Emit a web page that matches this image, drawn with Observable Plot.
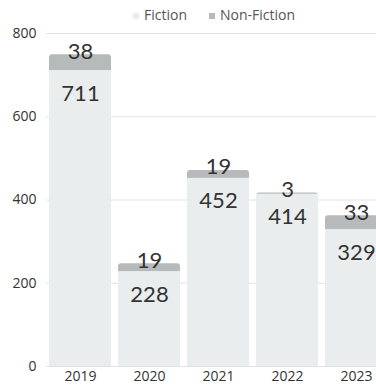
<!DOCTYPE html>
<html>
<head>
<meta charset="utf-8">
<script src="https://cdn.jsdelivr.net/npm/d3@7"></script>
<script src="https://cdn.jsdelivr.net/npm/@observablehq/plot@0.6"></script>
<style>
  html, body { margin: 0; padding: 0; background: #fff; overflow: hidden; width: 376px; height: 389px; }
  #legend { height: 24px; display: flex; justify-content: center; align-items: center; gap: 22px;
    font-family: "Open Sans", sans-serif; font-size: 14px; color: #555; padding-left: 36px; box-sizing: border-box; width: 392px; padding-top: 5px; }
  .sw { display: inline-block; width: 6px; height: 6px; margin-right: 5px; vertical-align: middle; }
  #chart { width: 392px; }
  #chart svg { display: block; max-width: none !important; }
</style>
</head>
<body>
<div id="legend"></div>
<div id="chart"></div>
<script>
const years = ["2019", "2020", "2021", "2022", "2023"];
const fiction = [711, 228, 452, 414, 329];
const nonFiction = [38, 19, 19, 3, 33];
const seriesNames = ["Fiction", "Non-Fiction"];
const seriesColors = ["#e9eded", "#b6baba"];
const yTicks = [0, 200, 400, 600, 800];

const rows = years.map((y, i) => ({year: y, fiction: fiction[i], nonFiction: nonFiction[i], total: fiction[i] + nonFiction[i]}));

const legend = document.getElementById("legend");
seriesNames.forEach((n, i) => {
  const s = document.createElement("span");
  s.innerHTML = `<span class="sw" style="background:${seriesColors[i]}"></span>${n}`;
  legend.appendChild(s);
});

const chart = Plot.plot({
  width: 392,
  height: 365,
  marginLeft: 46,
  marginRight: 1,
  marginTop: 9,
  marginBottom: 23,
  style: {fontFamily: "Open Sans, sans-serif", fontSize: "14px", color: "#333", background: "#fff", maxWidth: "none"},
  x: {domain: years, paddingInner: 0.1, paddingOuter: 0.05, label: null, tickSize: 0, tickPadding: 5},
  y: {domain: [0, 800], ticks: yTicks, label: null, tickSize: 0, tickPadding: 10},
  marks: [
    Plot.ruleY(yTicks, {stroke: "#e2e2e2", strokeWidth: 1}),
    Plot.barY(rows, {x: "year", y: "total", fill: seriesColors[1], rx: 3}),
    Plot.barY(rows, {x: "year", y: "fiction", fill: seriesColors[0]}),
    Plot.text(rows, {x: "year", y: "total", text: d => String(d.nonFiction), dy: -3, fontSize: 22, fontWeight: 400, fill: "#333", fontFamily: "Lato, sans-serif", lineAnchor: "middle"}),
    Plot.text(rows, {x: "year", y: "fiction", text: d => String(d.fiction), dy: 23, fontSize: 22, fontWeight: 400, fill: "#333", fontFamily: "Lato, sans-serif", lineAnchor: "middle"})
  ]
});
chart.style.maxWidth = "none";
document.getElementById("chart").appendChild(chart);
</script>
</body>
</html>
